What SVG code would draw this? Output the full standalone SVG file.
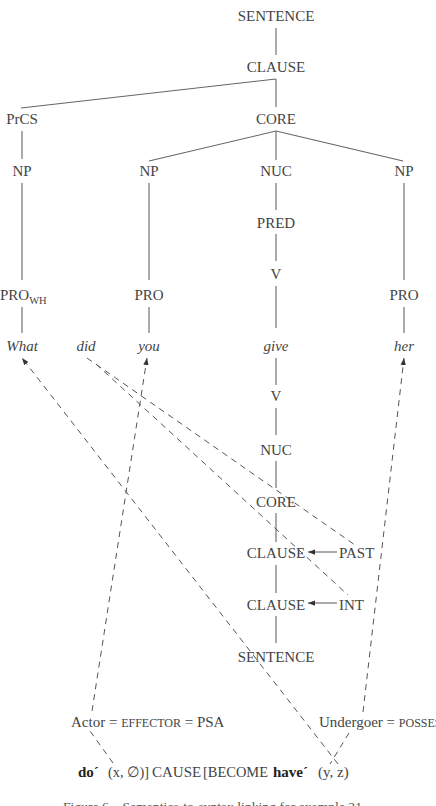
<svg xmlns="http://www.w3.org/2000/svg" width="436" height="806" viewBox="0 0 436 806">
<style>
text{font-family:"Liberation Serif","Times New Roman",serif;font-size:15px;fill:#444}
.c{text-anchor:middle}
.it{font-style:italic}
.sc{font-size:12px}
.sub{font-size:10.5px}
.b{font-weight:bold;fill:#222}
.t{stroke:#666;stroke-width:1.1;fill:none}
.d{stroke:#555;stroke-width:1;fill:none;stroke-dasharray:6 5}
.cap{font-size:12px;fill:#555}
</style>
<defs>
<marker id="ah" viewBox="0 0 8 6" refX="8" refY="3" markerWidth="7" markerHeight="5.5" markerUnits="userSpaceOnUse" orient="auto">
<path d="M0,0 L8,3 L0,6 z" fill="#333"/>
</marker>
</defs>
<rect width="436" height="806" fill="#fff"/>
<g id="connectors">
<line class="t" x1="276" y1="28" x2="276" y2="55"/>
<line class="t" x1="276" y1="79" x2="21" y2="108"/>
<line class="t" x1="276" y1="79" x2="276" y2="107"/>
<line class="t" x1="22" y1="131" x2="22" y2="159"/>
<line class="t" x1="276" y1="131" x2="149" y2="161"/>
<line class="t" x1="276" y1="131" x2="276" y2="160"/>
<line class="t" x1="276" y1="131" x2="403" y2="161"/>
<line class="t" x1="22" y1="183" x2="22" y2="280"/>
<line class="t" x1="149" y1="183" x2="149" y2="280"/>
<line class="t" x1="404" y1="183" x2="404" y2="280"/>
<line class="t" x1="276" y1="183" x2="276" y2="210"/>
<line class="t" x1="276" y1="234" x2="276" y2="261"/>
<line class="t" x1="276" y1="286" x2="276" y2="328"/>
<line class="t" x1="22" y1="307" x2="22" y2="333"/>
<line class="t" x1="149" y1="307" x2="149" y2="333"/>
<line class="t" x1="404" y1="307" x2="404" y2="333"/>
<line class="t" x1="276" y1="358" x2="276" y2="385"/>
<line class="t" x1="276" y1="408" x2="276" y2="435"/>
<line class="t" x1="276" y1="461" x2="276" y2="488"/>
<line class="t" x1="276" y1="513" x2="276" y2="542"/>
<line class="t" x1="276" y1="565" x2="276" y2="593"/>
<line class="t" x1="276" y1="616" x2="276" y2="643"/>
<line class="t" x1="337" y1="552" x2="308" y2="552" marker-end="url(#ah)"/>
<line class="t" x1="337" y1="603" x2="308" y2="603" marker-end="url(#ah)"/>
<line class="d" x1="87" y1="358" x2="355" y2="545"/>
<line class="d" x1="96" y1="364" x2="348" y2="595"/>
<line class="d" x1="338" y1="764" x2="22" y2="358" marker-end="url(#ah)"/>
<line class="d" x1="92" y1="711" x2="147" y2="358" marker-end="url(#ah)"/>
<line class="d" x1="113" y1="763" x2="90" y2="731"/>
<line class="d" x1="363" y1="712" x2="404" y2="358" marker-end="url(#ah)"/>
<line class="d" x1="349" y1="733" x2="330" y2="764"/>
</g>
<g id="n-sentence1"><text class="c" x="276" y="21">SENTENCE</text></g>
<g id="n-clause1"><text class="c" x="276" y="72">CLAUSE</text></g>
<g id="n-prcs"><text class="c" x="22" y="124">PrCS</text></g>
<g id="n-core1"><text class="c" x="276" y="124">CORE</text></g>
<g id="n-np1"><text class="c" x="22" y="176">NP</text></g>
<g id="n-np2"><text class="c" x="149" y="176">NP</text></g>
<g id="n-nuc1"><text class="c" x="276" y="176">NUC</text></g>
<g id="n-np3"><text class="c" x="404" y="176">NP</text></g>
<g id="n-pred"><text class="c" x="276" y="228">PRED</text></g>
<g id="n-v1"><text class="c" x="276" y="279">V</text></g>
<g id="n-prowh"><text x="0" y="300">PRO<tspan class="sub" dy="4">WH</tspan></text></g>
<g id="n-pro2"><text class="c" x="149" y="300">PRO</text></g>
<g id="n-pro3"><text class="c" x="404" y="300">PRO</text></g>
<g id="w-what"><text class="c it" x="22" y="351">What</text></g>
<g id="w-did"><text class="c it" x="86" y="351">did</text></g>
<g id="w-you"><text class="c it" x="149" y="351">you</text></g>
<g id="w-give"><text class="c it" x="276" y="351">give</text></g>
<g id="w-her"><text class="c it" x="404" y="351">her</text></g>
<g id="n-v2"><text class="c" x="276" y="401">V</text></g>
<g id="n-nuc2"><text class="c" x="276" y="455">NUC</text></g>
<g id="n-core2"><text class="c" x="276" y="507">CORE</text></g>
<g id="n-clause2"><text class="c" x="276" y="558">CLAUSE</text></g>
<g id="n-past"><text x="339" y="558">PAST</text></g>
<g id="n-clause3"><text class="c" x="276" y="610">CLAUSE</text></g>
<g id="n-int"><text x="339" y="610">INT</text></g>
<g id="n-sentence2"><text class="c" x="276" y="662">SENTENCE</text></g>
<g id="l-actor"><text x="71" y="727">Actor = <tspan class="sc">EFFECTOR</tspan> = PSA</text></g>
<g id="l-undergoer"><text x="319" y="727">Undergoer = <tspan class="sc">POSSESSOR</tspan></text></g>
<g id="l-formula"><text y="777"><tspan class="b" x="78">do´</tspan><tspan x="108" textLength="41" lengthAdjust="spacingAndGlyphs">(x, ∅)]</tspan><tspan x="152">CAUSE</tspan><tspan x="203" textLength="65" lengthAdjust="spacingAndGlyphs">[BECOME</tspan><tspan class="b" x="273">have´</tspan><tspan x="318">(y, z)</tspan></text></g>
<g id="caption"><text class="cap" x="63" y="811" textLength="299" lengthAdjust="spacingAndGlyphs">Figure 6 – Semantics-to-syntax linking for example 21</text></g>
</svg>
